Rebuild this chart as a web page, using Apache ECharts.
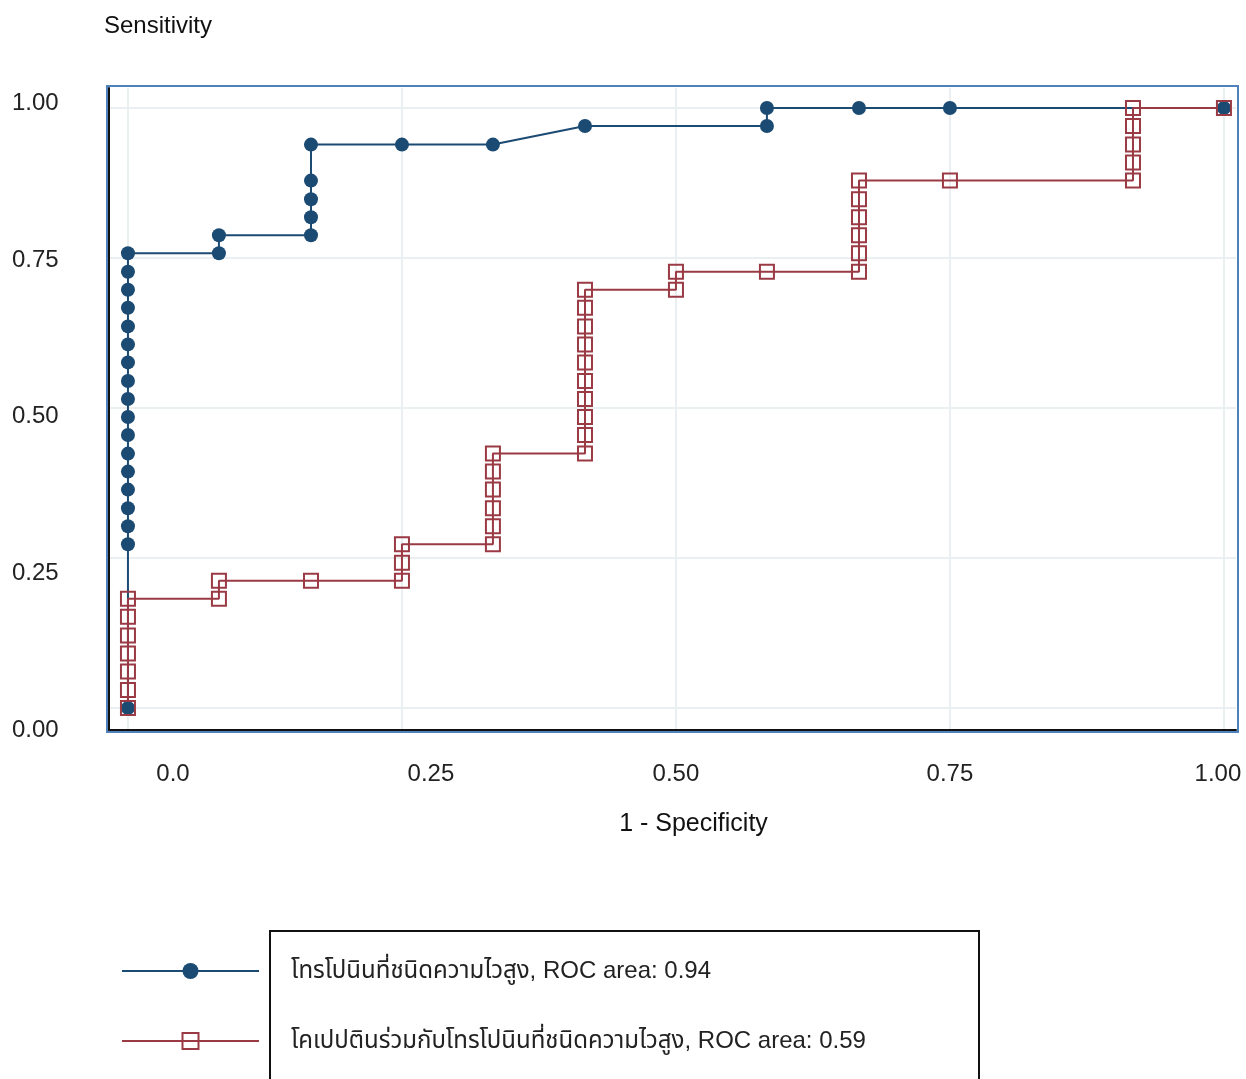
<!DOCTYPE html>
<html>
<head>
<meta charset="utf-8">
<script src="https://cdn.jsdelivr.net/npm/echarts@6/dist/echarts.min.js"></script>
<style>
  html, body { margin: 0; padding: 0; background: #fff; }
  #chartMain { width: 1246px; height: 1079px; }
</style>
</head>
<body>
<div id="chartMain"></div>
<script>
// tick values and their labels
var tickValues = [0, 0.25, 0.5, 0.75, 1];
var xTickLabels = ['0.0', '0.25', '0.50', '0.75', '1.00'];
var yTickLabels = ['0.00', '0.25', '0.50', '0.75', '1.00'];

// series 1: troponin (high sensitivity)
var troponinName = 'โทรโปนินที่ชนิดความไวสูง, ROC area: 0.94';
var troponinFpr = [0,
  0, 0, 0, 0, 0, 0, 0, 0, 0, 0, 0, 0, 0, 0, 0, 0, 0,
  0.083, 0.083,
  0.167, 0.167, 0.167, 0.167, 0.167,
  0.25, 0.333, 0.417, 0.583, 0.583, 0.667, 0.75, 1];
var troponinSens = [0,
  0.273, 0.303, 0.333, 0.364, 0.394, 0.424, 0.455, 0.485, 0.515, 0.545, 0.576, 0.606, 0.636, 0.667, 0.697, 0.727, 0.758,
  0.758, 0.788,
  0.788, 0.818, 0.848, 0.879, 0.939,
  0.939, 0.939, 0.970, 0.970, 1, 1, 1, 1];

// series 2: copeptin + troponin
var copeptinName = 'โคเปปตินร่วมกับโทรโปนินที่ชนิดความไวสูง, ROC area: 0.59';
var copeptinFpr = [0, 0, 0, 0, 0, 0, 0,
  0.083, 0.083,
  0.167,
  0.25, 0.25, 0.25,
  0.333, 0.333, 0.333, 0.333, 0.333, 0.333,
  0.417, 0.417, 0.417, 0.417, 0.417, 0.417, 0.417, 0.417, 0.417, 0.417,
  0.5, 0.5,
  0.583,
  0.667, 0.667, 0.667, 0.667, 0.667, 0.667,
  0.75,
  0.917, 0.917, 0.917, 0.917, 0.917,
  1];
var copeptinSens = [0, 0.030, 0.061, 0.091, 0.121, 0.152, 0.182,
  0.182, 0.212,
  0.212,
  0.212, 0.242, 0.273,
  0.273, 0.303, 0.333, 0.364, 0.394, 0.424,
  0.424, 0.455, 0.485, 0.515, 0.545, 0.576, 0.606, 0.636, 0.667, 0.697,
  0.697, 0.727,
  0.727,
  0.727, 0.758, 0.788, 0.818, 0.848, 0.879,
  0.879,
  0.879, 0.909, 0.939, 0.970, 1,
  1];

var blue = '#1b4a73';
var red = '#9a3a44';
var gridColor = '#eaf0f2';
var font = "'Liberation Sans', 'Noto Sans Thai', Arial, sans-serif";

function pairs(xs, ys) {
  var out = [];
  for (var i = 0; i < xs.length; i++) {
    out.push([xs[i], ys[i]]);
  }
  return out;
}

// small shifts so the tick labels sit where the reference puts them
var xLabelRich = {
  t0: { padding: [0, 0, 0, 90] },
  t1: { padding: [0, 0, 0, 58] },
  t2: { padding: [0, 0, 0, 0] },
  t3: { padding: [0, 0, 0, 0] },
  t4: { padding: [0, 12, 0, 0] }
};
var yLabelRich = {
  t0: { padding: [44, 0, 0, 0] },
  t1: { padding: [30, 0, 0, 0] },
  t2: { padding: [16, 0, 0, 0] },
  t3: { padding: [4, 0, 0, 0] },
  t4: { padding: [0, 0, 10, 0] }
};

var myChart = echarts.init(document.getElementById('chartMain'));

var option = {
  backgroundColor: '#fff',
  animation: false,
  title: {
    text: 'Sensitivity',
    left: 99,
    top: 9,
    textStyle: { fontFamily: font, fontSize: 24, fontWeight: 'normal', color: '#111' }
  },
  grid: { left: 109, right: 10, top: 88, bottom: 349, containLabel: false },
  xAxis: {
    type: 'value',
    min: -0.0173,
    max: 1.011,
    name: '1 - Specificity',
    nameLocation: 'middle',
    nameGap: 82,
    nameTextStyle: { fontFamily: font, fontSize: 25, color: '#111', padding: [0, 0, 0, 42] },
    axisLine: { show: true, onZero: false, lineStyle: { color: '#111', width: 2 } },
    axisTick: { show: false, customValues: tickValues },
    splitLine: { show: true, lineStyle: { color: gridColor, width: 2 } },
    axisLabel: {
      customValues: tickValues,
      margin: 32,
      fontFamily: font,
      fontSize: 24,
      color: '#222',
      formatter: function (v) {
        var i = tickValues.indexOf(Math.round(v * 100) / 100);
        return '{t' + i + '|' + xTickLabels[i] + '}';
      },
      rich: xLabelRich
    }
  },
  yAxis: {
    type: 'value',
    min: -0.0367,
    max: 1.0333,
    axisLine: { show: true, onZero: false, lineStyle: { color: '#111', width: 2 } },
    axisTick: { show: false, customValues: tickValues },
    splitLine: { show: true, lineStyle: { color: gridColor, width: 2 } },
    axisLabel: {
      customValues: tickValues,
      align: 'left',
      margin: 97,
      fontFamily: font,
      fontSize: 24,
      color: '#222',
      formatter: function (v) {
        var i = tickValues.indexOf(Math.round(v * 100) / 100);
        return '{t' + i + '|' + yTickLabels[i] + '}';
      },
      rich: yLabelRich
    }
  },
  legend: {
    orient: 'vertical',
    left: 116,
    top: 954,
    itemWidth: 137,
    itemHeight: 20,
    itemGap: 46,
    textStyle: { fontFamily: font, fontSize: 24, color: '#222', padding: [0, 0, 0, 27], lineHeight: 20 },
    data: [troponinName, copeptinName]
  },
  graphic: [
    {
      type: 'rect',
      shape: { x: 107, y: 86, width: 1131, height: 646 },
      style: { fill: 'none', stroke: '#4f81bd', lineWidth: 2 },
      z: 0
    },
    {
      type: 'rect',
      shape: { x: 270, y: 931, width: 709, height: 170 },
      style: { fill: 'none', stroke: '#111', lineWidth: 2 },
      z: 0
    }
  ],
  series: [
    {
      name: troponinName,
      type: 'line',
      data: pairs(troponinFpr, troponinSens),
      symbol: 'circle',
      symbolSize: 14,
      itemStyle: { color: blue },
      lineStyle: { color: blue, width: 2 }
    },
    {
      name: copeptinName,
      type: 'line',
      data: pairs(copeptinFpr, copeptinSens),
      symbol: 'rect',
      symbolSize: 14,
      itemStyle: { color: 'rgba(0,0,0,0)', borderColor: red, borderWidth: 2 },
      lineStyle: { color: red, width: 2 }
    }
  ]
};

myChart.setOption(option);
</script>
</body>
</html>
